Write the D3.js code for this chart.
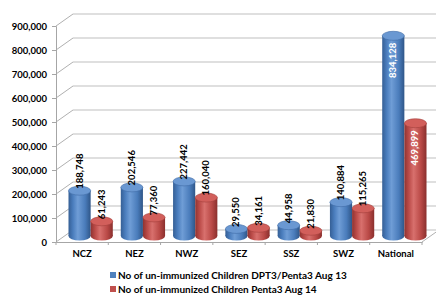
<!DOCTYPE html>
<html>
<head>
<meta charset="utf-8">
<script src="https://cdn.jsdelivr.net/npm/d3@7"></script>
<style>
  body { margin: 0; background: #fff; }
  svg { display: block; font-family: Lato, "Open Sans", sans-serif; font-weight: bold; }
</style>
</head>
<body>
<div id="chart"></div>
<script>
// Chart data
const categories = ['NCZ', 'NEZ', 'NWZ', 'SEZ', 'SSZ', 'SWZ', 'National'];
const aug13 = [188748, 202546, 227442, 29550, 44958, 140884, 834128];
const aug14 = [61243, 77360, 160040, 34161, 21830, 115265, 469899];
const seriesNames = [
    'No of un-immunized Children DPT3/Penta3 Aug 13',
    'No of un-immunized Children Penta3 Aug 14'
];
const yTicks = [0, 100000, 200000, 300000, 400000, 500000, 600000, 700000, 800000, 900000];

const width = 436, height = 300;
const depthX = 17, depthY = -12;   // 3d offset of the back wall

const svg = d3.select('#chart').append('svg')
    .attr('width', width)
    .attr('height', height);

const x = d3.scaleBand().domain(categories).range([56, 422]);
const y = d3.scaleLinear().domain([0, 900000]).range([242, 26]);
const inner = d3.scaleBand().domain([0, 1]).range([4, x.bandwidth() - 4]);

// gradients for the cylinders
const defs = svg.append('defs');
const palette = [
    { id: 'gBlue', stops: ['#355f95', '#4a7dbd', '#6f9dd6', '#4a7cbb', '#2f5688'], top: '#6a98d2', edge: '#3f6ca6' },
    { id: 'gRed', stops: ['#8f3331', '#bb4b48', '#d8706d', '#b94946', '#8a2f2d'], top: '#d25f5b', edge: '#a23f3c' }
];
palette.forEach(p => {
    const g = defs.append('linearGradient').attr('id', p.id)
        .attr('x1', 0).attr('x2', 1).attr('y1', 0).attr('y2', 0);
    p.stops.forEach((c, i) => {
        g.append('stop').attr('offset', [0, 0.2, 0.42, 0.75, 1][i]).attr('stop-color', c);
    });
});

// back wall gridlines and side wall
const grid = svg.append('g').attr('class', 'grid');
yTicks.forEach(t => {
    grid.append('line')
        .attr('x1', x.range()[0] + depthX).attr('x2', x.range()[1] + depthX)
        .attr('y1', y(t) + depthY).attr('y2', y(t) + depthY)
        .attr('stroke', '#bfbfbf').attr('stroke-width', 1);
    grid.append('line')
        .attr('x1', x.range()[0]).attr('x2', x.range()[0] + depthX)
        .attr('y1', y(t)).attr('y2', y(t) + depthY)
        .attr('stroke', '#b0b0b0').attr('stroke-width', 1);
});

// floor edges
grid.append('line')
    .attr('x1', x.range()[1]).attr('x2', x.range()[1] + depthX)
    .attr('y1', y(0)).attr('y2', y(0) + depthY)
    .attr('stroke', '#b0b0b0');

// y axis
const yAxis = d3.axisLeft(y)
    .tickValues(yTicks)
    .tickFormat(d3.format(','))
    .tickSizeOuter(0)
    .tickSize(4)
    .tickPadding(5);
const yg = svg.append('g')
    .attr('transform', `translate(${x.range()[0]},0)`)
    .call(yAxis);
yg.select('.domain').attr('stroke', '#a6a6a6');
yg.selectAll('.tick line').attr('stroke', '#a6a6a6');
yg.selectAll('text').attr('font-size', 9.5).attr('font-family', 'Lato').attr('font-weight', 'bold').attr('fill', '#000');

// x axis
const xAxis = d3.axisBottom(x).tickSize(0).tickPadding(8);
const xg = svg.append('g')
    .attr('transform', `translate(0,${y(0)})`)
    .call(xAxis);
xg.select('.domain').attr('stroke', '#a6a6a6');
xg.selectAll('text').attr('font-size', 9.5).attr('font-family', 'Lato').attr('font-weight', 'bold').attr('fill', '#000');
// category separators
xg.selectAll('.sep')
    .data(categories.concat(['end']))
    .enter().append('line')
    .attr('x1', (d, i) => x.range()[0] + i * x.step())
    .attr('x2', (d, i) => x.range()[0] + i * x.step())
    .attr('y1', 0).attr('y2', 3)
    .attr('stroke', '#a6a6a6');

// cylinders
const rx = inner.bandwidth() / 2;
const ry = 4.5;
const base = y(0) + depthY / 2;
const bars = svg.append('g').attr('class', 'bars');

categories.forEach((cat, ci) => {
    [aug13[ci], aug14[ci]].forEach((v, si) => {
        const p = palette[si];
        const left = x(cat) + inner(si) + depthX / 2;
        const cx = left + rx;
        const top = y(v) + depthY / 2;
        const g = bars.append('g');
        g.append('ellipse')
            .attr('cx', cx).attr('cy', base).attr('rx', rx).attr('ry', ry)
            .attr('fill', `url(#${p.id})`);
        g.append('rect')
            .attr('x', left).attr('y', top)
            .attr('width', rx * 2).attr('height', base - top)
            .attr('fill', `url(#${p.id})`);
        g.append('ellipse')
            .attr('cx', cx).attr('cy', top).attr('rx', rx).attr('ry', ry)
            .attr('fill', p.top)
            .attr('stroke', p.edge).attr('stroke-width', 0.6);

        // value label, rotated
        const inside = cat === 'National';
        g.append('text')
            .attr('transform', `translate(${cx + 3},${inside ? top + 7 : top - 2}) rotate(-90)`)
            .attr('text-anchor', inside ? 'end' : 'start')
            .attr('font-size', 9.5)
            .attr('fill', inside ? '#fff' : '#000')
            .text(d3.format(',')(v));
    });
});

// legend
const legend = svg.append('g').attr('transform', 'translate(110,275)');
seriesNames.forEach((name, i) => {
    const row = legend.append('g').attr('transform', `translate(0,${i * 14})`);
    row.append('rect')
        .attr('x', 0).attr('y', -3).attr('width', 6).attr('height', 6)
        .attr('fill', i === 0 ? '#4f81bd' : '#c0504d');
    row.append('text')
        .attr('x', 8).attr('y', 3.5)
        .attr('font-size', 10)
        .text(name);
});
</script>
</body>
</html>
